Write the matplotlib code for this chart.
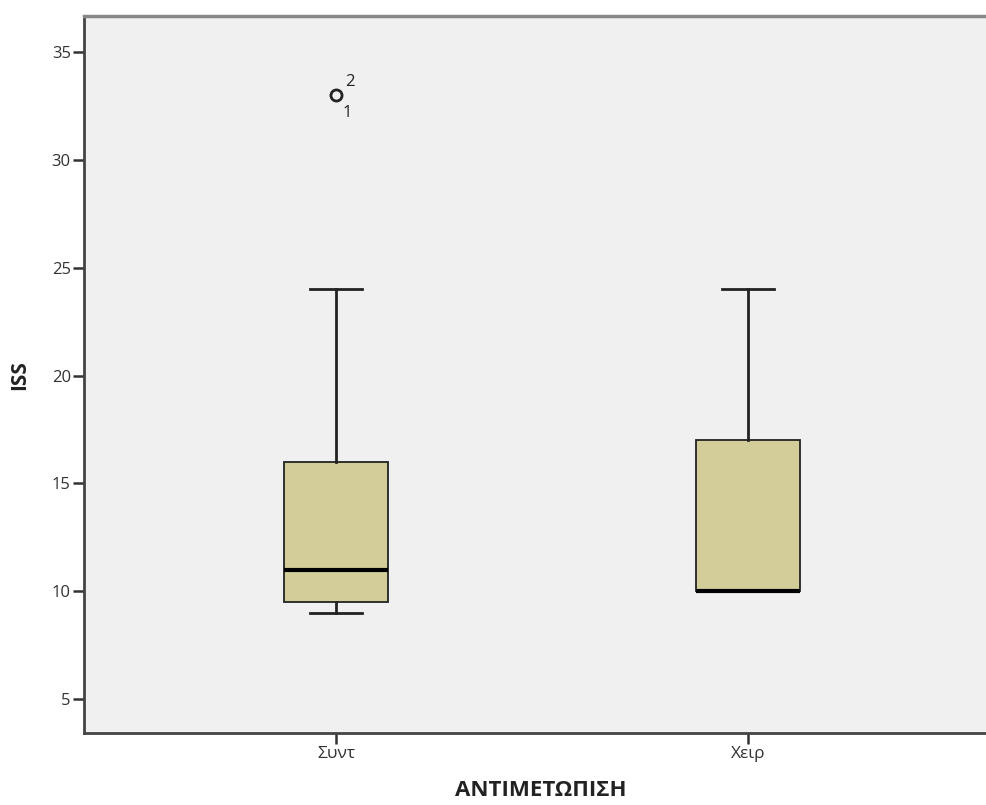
import matplotlib
matplotlib.use("Agg")
import matplotlib.pyplot as plt

categories = ["Συντ", "Χειρ"]
whisker_low = [9, 10]
q1 = [9.5, 10]
median = [11, 10]
q3 = [16, 17]
whisker_high = [24, 24]
outliers = [[33], []]
outlier_labels = [["2", "1"], []]
yticks = [5, 10, 15, 20, 25, 30, 35]

plt.rcParams['font.family'] = ['Open Sans', 'DejaVu Sans']

fig = plt.figure(figsize=(9.87, 8.05), dpi=100)
ax = fig.add_axes([0.0851, 0.0894, 0.9149, 0.8906])
ax.set_facecolor("#F0F0F0")

stats = []
for i in range(len(categories)):
    stats.append(dict(med=median[i], q1=q1[i], q3=q3[i], whislo=whisker_low[i],
                      whishi=whisker_high[i], fliers=outliers[i], label=categories[i]))

pos = list(range(len(categories)))
ax.bxp(stats, positions=pos, widths=0.252, patch_artist=True, showfliers=True,
       boxprops=dict(facecolor="#D3CD9A", edgecolor="#222222", linewidth=1.3),
       medianprops=dict(color="black", linewidth=3),
       whiskerprops=dict(color="#222222", linewidth=2),
       capprops=dict(color="#222222", linewidth=2),
       capwidths=0.125,
       flierprops=dict(marker="o", markersize=8, markerfacecolor="none",
                       markeredgecolor="#222222", markeredgewidth=2))

for i, vals in enumerate(outliers):
    for v in vals:
        labs = outlier_labels[i]
        ax.annotate(labs[0], (pos[i], v), xytext=(10, 9.5), textcoords="offset points",
                    fontsize=12, color="#222222", ha="center", va="center")
        ax.annotate(labs[1], (pos[i], v), xytext=(8.3, -12.5), textcoords="offset points",
                    fontsize=12, color="#222222", ha="center", va="center")

ax.set_xlim(-0.612, 1.58)
ax.set_ylim(3.42, 36.67)
ax.set_yticks(yticks)
ax.set_yticklabels([str(t) for t in yticks], fontsize=12, color="#333333")
ax.set_xticks(pos)
ax.set_xticklabels(categories, fontsize=12.5, color="#333333")
ax.tick_params(axis="both", direction="out", length=8, width=1.8, color="#333333", pad=1.5)

ax.set_ylabel("ISS", fontsize=15, fontweight="bold", color="#222222")
ax.yaxis.label.set_va("center")
ax.yaxis.set_label_coords(-0.0709, 0.5)
ax.set_xlabel("ΑΝΤΙΜΕΤΩΠΙΣΗ", fontsize=16, fontweight="bold", color="#222222")
ax.xaxis.label.set_va("center")
ax.xaxis.set_label_coords((541 - 84) / 903, -0.0808)

for s in ["left", "bottom"]:
    ax.spines[s].set_color("#444444")
    ax.spines[s].set_linewidth(2)
ax.spines["top"].set_color("#888888")
ax.spines["top"].set_linewidth(2.5)
ax.spines["right"].set_visible(False)

fig.savefig("out.png", dpi=100)
